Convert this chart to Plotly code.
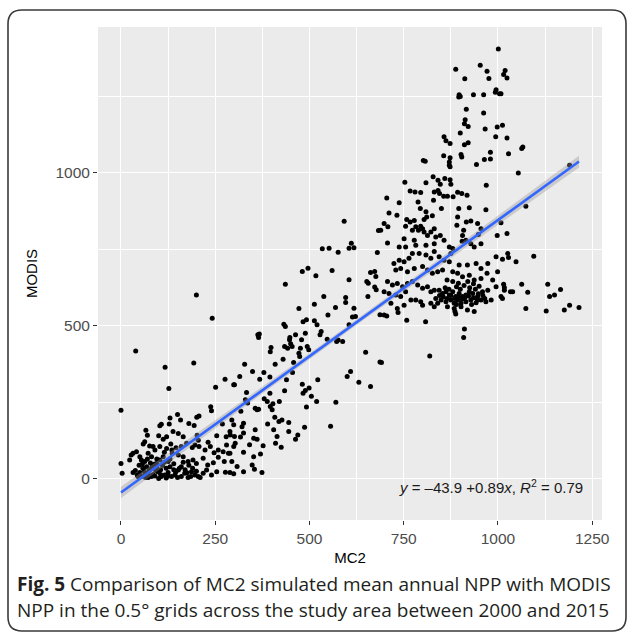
import numpy as np
import plotly.graph_objects as go

# ---------------- data (MC2 vs MODIS NPP) ----------------
low_isolated = [(200, 601), (242, 525), (39, 418), (117, 365), (193, 379), (127, 296),
                (0, 225), (276, 326), (251, 300)]

low_cluster = [
    (103, 174), (107, 179), (128, 180), (130, 199), (150, 211), (158, 193), (180, 181), (194, 175),
    (201, 202), (207, 206), (238, 236), (240, 223),
    (66, 159), (70, 143), (100, 141), (112, 130), (121, 138), (138, 155), (152, 149), (165, 138),
    (174, 117), (202, 143), (205, 127), (231, 120), (254, 141), (269, 180), (279, 138), (289, 155),
    (59, 114), (63, 122), (76, 108), (85, 106), (90, 95), (103, 106), (121, 100), (132, 114),
    (146, 102), (160, 106), (189, 103), (196, 111), (207, 106), (223, 95), (237, 106), (247, 86),
    (258, 95), (271, 89), (280, 111), (289, 84),
    (27, 78), (32, 84), (41, 89), (50, 73), (54, 62), (63, 57), (72, 84), (81, 73), (94, 51),
    (103, 62), (112, 73), (125, 57), (136, 84), (152, 78), (165, 73), (178, 57), (191, 62),
    (200, 51), (218, 68), (230, 46), (245, 53), (258, 71), (274, 57), (285, 84),
    (0, 51), (3, 19), (23, 62), (32, 21), (43, 13), (50, 21), (54, 8), (63, 13), (72, 19), (81, 8),
    (90, 10), (98, 24), (107, 8), (116, 13), (125, 21), (134, 8), (143, 13), (152, 29), (160, 8),
    (169, 19), (178, 5), (187, 24), (196, 13), (205, 8), (218, 19), (227, 29), (240, 13),
    (254, 24), (277, 22), (289, 21),
    (65, 5), (75, 30), (85, 15), (95, 40), (105, 30), (110, 45), (120, 35), (130, 40), (140, 30),
    (150, 5), (160, 40), (170, 30), (180, 45), (190, 35), (200, 25), (210, 5), (120, 3), (100, 2),
    (88, 48), (78, 52), (68, 40), (58, 35), (140, 50), (165, 55), (185, 8), (145, 22), (115, 55),
    (95, 65), (130, 65), (175, 20), (155, 35), (125, 10), (105, 15), (92, 28), (82, 38), (72, 5),
    (62, 25), (48, 45), (38, 28), (45, 8), (57, 50), (70, 65), (115, 87), (135, 95),
]

mid_cluster = [
    (592, 842), (683, 812), (534, 752), (552, 754), (576, 741), (605, 754), (611, 770), (618, 756),
    (680, 740),
    (481, 678), (496, 689), (560, 681), (517, 664), (436, 636), (605, 651), (652, 645), (656, 640),
    (662, 675), (673, 678), (676, 662), (673, 627), (677, 618), (655, 596), (538, 596), (513, 571),
    (472, 557), (549, 536), (569, 560), (596, 593), (596, 577), (618, 558), (614, 529), (622, 531),
    (687, 537),
    (432, 506), (436, 498), (483, 514), (492, 520), (513, 517), (520, 504), (363, 471), (365, 462),
    (367, 474), (448, 462), (463, 471), (479, 455), (489, 476), (528, 471), (531, 482), (547, 457),
    (572, 449), (576, 454), (588, 449), (605, 504),
    (398, 430), (396, 416), (434, 433), (442, 427), (450, 442), (454, 433), (447, 455), (472, 411),
    (474, 400), (476, 427), (494, 433), (498, 422), (649, 414), (687, 382),
    (328, 375), (409, 375), (430, 391), (458, 381), (455, 348), (349, 351), (315, 335), (299, 308),
    (379, 348), (368, 326), (395, 333), (439, 324), (522, 324), (600, 335), (609, 351), (631, 316),
    (662, 302),
    (481, 310), (489, 289), (483, 280), (499, 297), (505, 270), (519, 253), (492, 235), (570, 251),
    (556, 172), (434, 288), (420, 253),
    (395, 280), (380, 262), (388, 253), (396, 237), (401, 226), (403, 246), (356, 231), (361, 226),
    (365, 228), (333, 283), (330, 259), (336, 248), (318, 221), (301, 308),
    (408, 202), (419, 188), (427, 193), (445, 185), (405, 161), (414, 139), (445, 155), (463, 130),
    (469, 144), (425, 104), (410, 117), (487, 169), (389, 180),
    (294, 193), (299, 177), (321, 171), (325, 182), (290, 144), (301, 139), (317, 137), (325, 150),
    (356, 161), (352, 133), (361, 130), (341, 112), (303, 117), (299, 106), (377, 109), (325, 87),
    (370, 82), (352, 73), (294, 57), (348, 46), (308, 41), (325, 24), (299, 17), (354, 32), (374, 21),
]

upper_cluster = [
    (1001, 1405), (953, 1352), (971, 1332), (976, 1309), (888, 1339), (912, 1308), (995, 1272),
    (993, 1264), (1004, 1259), (897, 1256), (900, 1250), (896, 1248), (935, 1256), (962, 1256),
    (916, 1208), (962, 1196), (913, 1174), (911, 1161), (921, 1152), (966, 1144), (998, 1150),
    (900, 1131), (994, 1118), (857, 1118), (862, 1105), (873, 1096), (921, 1099), (911, 1092),
    (902, 1060), (904, 1052), (856, 1056), (873, 1050), (802, 1041), (807, 1038), (871, 1036),
    (871, 1025), (873, 1020), (943, 1028), (964, 1044), (980, 1046), (980, 1068),
    (753, 970), (809, 968), (828, 988), (841, 976), (847, 963), (859, 982), (873, 978), (875, 963),
    (969, 960), (767, 941), (780, 938), (795, 936), (831, 938), (841, 943), (845, 933), (856, 924),
    (866, 924), (881, 922), (893, 937), (904, 933), (918, 927),
    (705, 918), (711, 869), (738, 903), (732, 862), (788, 905), (794, 884), (809, 873), (829, 911),
    (850, 884), (896, 884), (924, 886), (968, 880),
    (708, 824), (758, 848), (767, 840), (778, 845), (755, 826), (773, 813), (782, 824), (789, 813),
    (804, 848), (811, 856), (826, 860), (795, 826), (800, 818), (804, 807), (813, 796), (822, 807),
    (831, 818), (835, 791), (847, 796), (857, 780),
    (893, 856), (891, 829), (916, 840), (909, 813), (906, 796), (905, 777), (928, 843), (946, 835),
    (955, 818), (948, 799), (915, 780), (928, 769), (937, 758), (955, 769), (998, 796),
    (751, 785), (707, 771), (738, 758), (755, 758), (778, 780), (782, 764), (809, 764), (831, 769),
    (871, 758), (880, 753), (689, 813), (698, 835),
]

band_cluster = [
    (724, 704), (738, 715), (751, 710), (764, 721), (773, 737), (791, 737), (809, 732), (822, 721),
    (831, 743), (844, 726), (857, 715), (871, 710), (875, 737), (897, 699), (919, 699), (942, 704),
    (955, 688), (973, 704), (995, 726), (971, 672),
    (729, 683), (742, 688), (760, 677), (778, 688), (800, 694), (813, 683), (826, 672), (840, 677),
    (853, 683), (880, 677), (893, 672), (906, 661), (924, 666), (937, 650), (955, 655), (986, 650),
    (999, 677),
    (707, 645), (720, 634), (733, 639), (747, 628), (760, 639), (773, 645), (787, 634), (800, 623),
    (813, 628), (822, 612), (831, 617), (844, 617), (853, 606), (862, 612), (871, 601), (880, 612),
    (888, 596), (897, 606), (906, 596), (915, 601), (924, 612), (933, 606), (946, 596), (959, 612),
    (973, 617), (995, 628), (1008, 596),
    (698, 612), (711, 606), (729, 601), (742, 596), (755, 612), (769, 585), (782, 585), (795, 579),
    (822, 574), (840, 574), (849, 585), (862, 579), (875, 585), (884, 574), (893, 585), (902, 574),
    (915, 579), (928, 585), (942, 576), (955, 585), (968, 579), (982, 585),
    (716, 574), (751, 568), (800, 568), (831, 563), (866, 563), (884, 557), (902, 563), (919, 552),
    (937, 547), (888, 539), (886, 547), (733, 557),
    (855, 595), (865, 590), (875, 600), (885, 590), (895, 595), (905, 588), (912, 592), (922, 598),
    (935, 592), (948, 605), (860, 625), (870, 620), (890, 628), (900, 620), (910, 632), (925, 625),
    (940, 620), (950, 630), (880, 645), (895, 640), (920, 645), (935, 638), (865, 650), (845, 600),
    (835, 590), (960, 600), (965, 590), (945, 585), (930, 570), (890, 570),
    (911, 490), (909, 462), (819, 402), (691, 381), (758, 519), (808, 514), (698, 536), (705, 533),
    (735, 544),
]

right_cluster = [
    (1019, 1335), (1015, 1322), (1024, 1310), (1008, 1259), (1012, 1156), (1024, 1114),
    (1028, 1063), (1063, 1080), (1066, 1085), (1054, 1000), (1190, 1025), (1074, 891),
    (1008, 837), (1024, 802),
    (1012, 718), (1026, 737), (1028, 724), (1048, 710), (1095, 728), (1015, 636), (1017, 626),
    (1017, 617), (1033, 612), (1039, 612), (1063, 636), (1079, 610), (1132, 636), (1166, 619),
    (1150, 601), (1137, 596), (1012, 590), (1074, 557), (1128, 549), (1176, 552), (1190, 568),
    (1215, 560),
]

fit_intercept = -43.9
fit_slope = 0.89
x_ticks = [0, 250, 500, 750, 1000, 1250]
y_ticks = [0, 500, 1000]

pts = low_isolated + low_cluster + mid_cluster + upper_cluster + band_cluster + right_cluster
mc2 = np.array([p[0] for p in pts], dtype=float)
modis = np.array([p[1] for p in pts], dtype=float)

# regression line + confidence band (standard error of the fitted mean)
xs = np.linspace(mc2.min(), mc2.max(), 120)
fit = fit_intercept + fit_slope * xs
resid = modis - (fit_intercept + fit_slope * mc2)
n = len(mc2)
s = np.sqrt(np.sum(resid ** 2) / (n - 2))
xbar = mc2.mean()
sxx = np.sum((mc2 - xbar) ** 2)
se = s * np.sqrt(1.0 / n + (xs - xbar) ** 2 / sxx)
band_k = 1.2
lo = fit - band_k * se
hi = fit + band_k * se

# ---------------- layout geometry ----------------
W, H = 627, 632
L, R, T, B = 98, 25, 27, 112
PW, PH = W - L - R, H - T - B


def px(xp):
    return (xp - L) / PW


def py(yp):
    return (H - B - yp) / PH


fig = go.Figure()
fig.add_trace(go.Scatter(x=mc2, y=modis, mode="markers",
                         marker=dict(color="black", size=5, line=dict(width=0)),
                         showlegend=False, hoverinfo="skip"))
fig.add_trace(go.Scatter(x=np.concatenate([xs, xs[::-1]]), y=np.concatenate([hi, lo[::-1]]),
                         fill="toself", fillcolor="rgba(153,153,153,0.4)",
                         line=dict(width=0), mode="lines", showlegend=False, hoverinfo="skip"))
fig.add_trace(go.Scatter(x=xs, y=fit, mode="lines", line=dict(color="#3366FF", width=2.6),
                         showlegend=False, hoverinfo="skip"))

axis_common = dict(
    showgrid=True, gridcolor="white", gridwidth=1.3, zeroline=False,
    ticks="outside", ticklen=4, tickwidth=1, tickcolor="#333333",
    tickfont=dict(family="Liberation Sans, Arial", size=15.5, color="#4D4D4D"),
    showline=False,
)

fig.update_layout(
    width=W, height=H,
    margin=dict(l=L, r=R, t=T, b=B),
    paper_bgcolor="white", plot_bgcolor="#EBEBEB",
    xaxis=dict(range=[-61, 1276], tickvals=x_ticks, ticktext=[str(v) for v in x_ticks],
               minor=dict(tickvals=[125, 375, 625, 875, 1125], showgrid=True, gridcolor="white",
                          gridwidth=0.6, ticks=""),
               title=dict(text="MC2", font=dict(family="Liberation Sans, Arial", size=15, color="black"),
                          standoff=6),
               **axis_common),
    yaxis=dict(range=[-134, 1477], tickvals=y_ticks, ticktext=[str(v) for v in y_ticks],
               minor=dict(tickvals=[250, 750, 1250], showgrid=True, gridcolor="white",
                          gridwidth=0.6, ticks=""),
               title=dict(text="MODIS", font=dict(family="Liberation Sans, Arial", size=15, color="black"),
                          standoff=14),
               **axis_common),
    font=dict(family="Liberation Sans, Arial"),
)

fig.add_annotation(x=981, y=-26, xref="x", yref="y", showarrow=False,
                   text="<i>y</i> = \u201343.9 +0.89<i>x</i>, <i>R</i><sup>2</sup> = 0.79",
                   font=dict(family="Liberation Sans, Arial", size=15, color="#1a1a1a"))

# caption
cap_font = dict(family="Open Sans", size=19, color="#231f20")
fig.add_annotation(x=px(15), y=py(584), xref="paper", yref="paper", xanchor="left", yanchor="middle",
                   showarrow=False, align="left", font=cap_font,
                   text="<b>Fig. 5</b> Comparison of MC2 simulated mean annual NPP with MODIS")
fig.add_annotation(x=px(15), y=py(610), xref="paper", yref="paper", xanchor="left", yanchor="middle",
                   showarrow=False, align="left", font=cap_font,
                   text="NPP in the 0.5\u00b0 grids across the study area between 2000 and 2015")

# rounded frame around figure + caption
x0, x1, y0, y1 = px(8), px(626), py(631), py(10)
rx, ry = 14 / PW, 14 / PH
path = (f"M {x0+rx},{y1} L {x1-rx},{y1} Q {x1},{y1} {x1},{y1-ry} L {x1},{y0+ry} "
        f"Q {x1},{y0} {x1-rx},{y0} L {x0+rx},{y0} Q {x0},{y0} {x0},{y0+ry} "
        f"L {x0},{y1-ry} Q {x0},{y1} {x0+rx},{y1} Z")
fig.add_shape(type="path", path=path, xref="paper", yref="paper",
              line=dict(color="#3a3a3a", width=1.6), fillcolor="rgba(0,0,0,0)", layer="above")

fig.write_html("out.html", config={"displayModeBar": False},
               post_script="document.body.style.margin='0';document.body.style.padding='0';")
